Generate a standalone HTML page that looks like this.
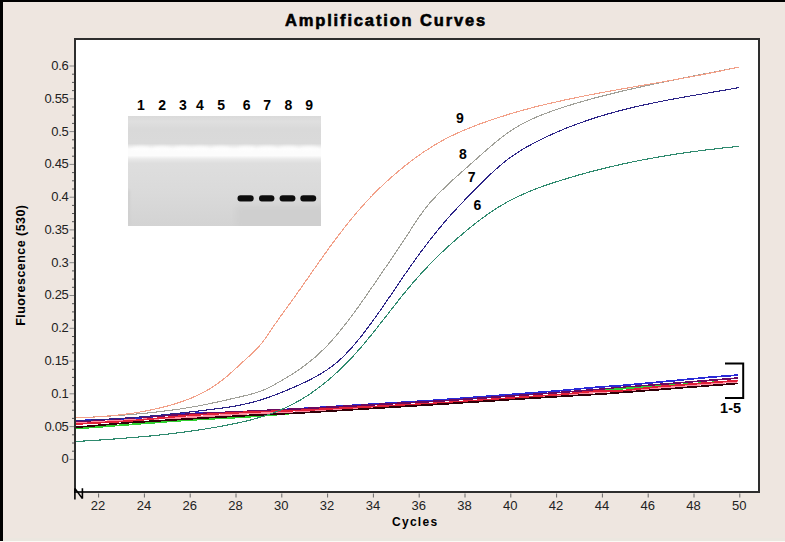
<!DOCTYPE html>
<html><head><meta charset="utf-8"><style>
html,body{margin:0;padding:0;}
body{width:785px;height:542px;overflow:hidden;background:#eee6e0;}
svg{display:block;}
text{font-family:"Liberation Sans",sans-serif;}
.tl{font-size:13px;fill:#222;}
.lb{font-size:13px;font-weight:bold;fill:#000;}
.ti{font-size:16.5px;font-weight:bold;fill:#000;stroke:#000;stroke-width:0.6px;letter-spacing:1.85px;}
.ax{font-size:12px;font-weight:bold;fill:#000;}
</style></head><body>
<svg width="785" height="542" viewBox="0 0 785 542">
<rect x="0" y="0" width="785" height="542" fill="#eee6e0"/>
<rect x="0" y="0" width="785" height="2" fill="#000"/>
<rect x="0" y="0" width="3" height="541" fill="#000"/>
<rect x="3" y="538" width="785" height="3" fill="#ebe7e0"/><rect x="0" y="541" width="785" height="1" fill="#fbfaf5"/>
<text x="386" y="25.5" text-anchor="middle" class="ti">Amplification Curves</text>
<rect x="75" y="39" width="684" height="453" fill="#fff" stroke="#2e2e2e" stroke-width="2"/>
<line x1="69.5" y1="459.4" x2="74" y2="459.4" stroke="#8a8a8a" stroke-width="1"/><line x1="72" y1="451.2" x2="74" y2="451.2" stroke="#555" stroke-width="1"/><line x1="72" y1="443.0" x2="74" y2="443.0" stroke="#555" stroke-width="1"/><line x1="72" y1="434.8" x2="74" y2="434.8" stroke="#555" stroke-width="1"/><line x1="69.5" y1="426.6" x2="74" y2="426.6" stroke="#8a8a8a" stroke-width="1"/><line x1="72" y1="418.4" x2="74" y2="418.4" stroke="#555" stroke-width="1"/><line x1="72" y1="410.2" x2="74" y2="410.2" stroke="#555" stroke-width="1"/><line x1="72" y1="402.0" x2="74" y2="402.0" stroke="#555" stroke-width="1"/><line x1="69.5" y1="393.8" x2="74" y2="393.8" stroke="#8a8a8a" stroke-width="1"/><line x1="72" y1="385.6" x2="74" y2="385.6" stroke="#555" stroke-width="1"/><line x1="72" y1="377.4" x2="74" y2="377.4" stroke="#555" stroke-width="1"/><line x1="72" y1="369.3" x2="74" y2="369.3" stroke="#555" stroke-width="1"/><line x1="69.5" y1="361.1" x2="74" y2="361.1" stroke="#8a8a8a" stroke-width="1"/><line x1="72" y1="352.9" x2="74" y2="352.9" stroke="#555" stroke-width="1"/><line x1="72" y1="344.7" x2="74" y2="344.7" stroke="#555" stroke-width="1"/><line x1="72" y1="336.5" x2="74" y2="336.5" stroke="#555" stroke-width="1"/><line x1="69.5" y1="328.3" x2="74" y2="328.3" stroke="#8a8a8a" stroke-width="1"/><line x1="72" y1="320.1" x2="74" y2="320.1" stroke="#555" stroke-width="1"/><line x1="72" y1="311.9" x2="74" y2="311.9" stroke="#555" stroke-width="1"/><line x1="72" y1="303.7" x2="74" y2="303.7" stroke="#555" stroke-width="1"/><line x1="69.5" y1="295.5" x2="74" y2="295.5" stroke="#8a8a8a" stroke-width="1"/><line x1="72" y1="287.3" x2="74" y2="287.3" stroke="#555" stroke-width="1"/><line x1="72" y1="279.1" x2="74" y2="279.1" stroke="#555" stroke-width="1"/><line x1="72" y1="270.9" x2="74" y2="270.9" stroke="#555" stroke-width="1"/><line x1="69.5" y1="262.7" x2="74" y2="262.7" stroke="#8a8a8a" stroke-width="1"/><line x1="72" y1="254.5" x2="74" y2="254.5" stroke="#555" stroke-width="1"/><line x1="72" y1="246.3" x2="74" y2="246.3" stroke="#555" stroke-width="1"/><line x1="72" y1="238.1" x2="74" y2="238.1" stroke="#555" stroke-width="1"/><line x1="69.5" y1="229.9" x2="74" y2="229.9" stroke="#8a8a8a" stroke-width="1"/><line x1="72" y1="221.7" x2="74" y2="221.7" stroke="#555" stroke-width="1"/><line x1="72" y1="213.5" x2="74" y2="213.5" stroke="#555" stroke-width="1"/><line x1="72" y1="205.4" x2="74" y2="205.4" stroke="#555" stroke-width="1"/><line x1="69.5" y1="197.2" x2="74" y2="197.2" stroke="#8a8a8a" stroke-width="1"/><line x1="72" y1="189.0" x2="74" y2="189.0" stroke="#555" stroke-width="1"/><line x1="72" y1="180.8" x2="74" y2="180.8" stroke="#555" stroke-width="1"/><line x1="72" y1="172.6" x2="74" y2="172.6" stroke="#555" stroke-width="1"/><line x1="69.5" y1="164.4" x2="74" y2="164.4" stroke="#8a8a8a" stroke-width="1"/><line x1="72" y1="156.2" x2="74" y2="156.2" stroke="#555" stroke-width="1"/><line x1="72" y1="148.0" x2="74" y2="148.0" stroke="#555" stroke-width="1"/><line x1="72" y1="139.8" x2="74" y2="139.8" stroke="#555" stroke-width="1"/><line x1="69.5" y1="131.6" x2="74" y2="131.6" stroke="#8a8a8a" stroke-width="1"/><line x1="72" y1="123.4" x2="74" y2="123.4" stroke="#555" stroke-width="1"/><line x1="72" y1="115.2" x2="74" y2="115.2" stroke="#555" stroke-width="1"/><line x1="72" y1="107.0" x2="74" y2="107.0" stroke="#555" stroke-width="1"/><line x1="69.5" y1="98.8" x2="74" y2="98.8" stroke="#8a8a8a" stroke-width="1"/><line x1="72" y1="90.6" x2="74" y2="90.6" stroke="#555" stroke-width="1"/><line x1="72" y1="82.4" x2="74" y2="82.4" stroke="#555" stroke-width="1"/><line x1="72" y1="74.2" x2="74" y2="74.2" stroke="#555" stroke-width="1"/><line x1="69.5" y1="66.0" x2="74" y2="66.0" stroke="#8a8a8a" stroke-width="1"/><line x1="98.6" y1="493.5" x2="98.6" y2="497.5" stroke="#666" stroke-width="1"/><line x1="144.4" y1="493.5" x2="144.4" y2="497.5" stroke="#666" stroke-width="1"/><line x1="190.2" y1="493.5" x2="190.2" y2="497.5" stroke="#666" stroke-width="1"/><line x1="236.0" y1="493.5" x2="236.0" y2="497.5" stroke="#666" stroke-width="1"/><line x1="281.8" y1="493.5" x2="281.8" y2="497.5" stroke="#666" stroke-width="1"/><line x1="327.6" y1="493.5" x2="327.6" y2="497.5" stroke="#666" stroke-width="1"/><line x1="373.4" y1="493.5" x2="373.4" y2="497.5" stroke="#666" stroke-width="1"/><line x1="419.2" y1="493.5" x2="419.2" y2="497.5" stroke="#666" stroke-width="1"/><line x1="465.0" y1="493.5" x2="465.0" y2="497.5" stroke="#666" stroke-width="1"/><line x1="510.8" y1="493.5" x2="510.8" y2="497.5" stroke="#666" stroke-width="1"/><line x1="556.6" y1="493.5" x2="556.6" y2="497.5" stroke="#666" stroke-width="1"/><line x1="602.4" y1="493.5" x2="602.4" y2="497.5" stroke="#666" stroke-width="1"/><line x1="648.2" y1="493.5" x2="648.2" y2="497.5" stroke="#666" stroke-width="1"/><line x1="694.0" y1="493.5" x2="694.0" y2="497.5" stroke="#666" stroke-width="1"/><line x1="739.8" y1="493.5" x2="739.8" y2="497.5" stroke="#666" stroke-width="1"/>
<text x="68.4" y="463.3" text-anchor="end" class="tl" style="letter-spacing:-0.35px">0</text><text x="68.4" y="430.5" text-anchor="end" class="tl" style="letter-spacing:-0.35px">0.05</text><text x="68.4" y="397.7" text-anchor="end" class="tl" style="letter-spacing:-0.35px">0.1</text><text x="68.4" y="365.0" text-anchor="end" class="tl" style="letter-spacing:-0.35px">0.15</text><text x="68.4" y="332.2" text-anchor="end" class="tl" style="letter-spacing:-0.35px">0.2</text><text x="68.4" y="299.4" text-anchor="end" class="tl" style="letter-spacing:-0.35px">0.25</text><text x="68.4" y="266.6" text-anchor="end" class="tl" style="letter-spacing:-0.35px">0.3</text><text x="68.4" y="233.8" text-anchor="end" class="tl" style="letter-spacing:-0.35px">0.35</text><text x="68.4" y="201.1" text-anchor="end" class="tl" style="letter-spacing:-0.35px">0.4</text><text x="68.4" y="168.3" text-anchor="end" class="tl" style="letter-spacing:-0.35px">0.45</text><text x="68.4" y="135.5" text-anchor="end" class="tl" style="letter-spacing:-0.35px">0.5</text><text x="68.4" y="102.7" text-anchor="end" class="tl" style="letter-spacing:-0.35px">0.55</text><text x="68.4" y="69.9" text-anchor="end" class="tl" style="letter-spacing:-0.35px">0.6</text>
<text x="98.1" y="509.8" text-anchor="middle" class="tl">22</text><text x="143.9" y="509.8" text-anchor="middle" class="tl">24</text><text x="189.7" y="509.8" text-anchor="middle" class="tl">26</text><text x="235.5" y="509.8" text-anchor="middle" class="tl">28</text><text x="281.3" y="509.8" text-anchor="middle" class="tl">30</text><text x="327.1" y="509.8" text-anchor="middle" class="tl">32</text><text x="372.9" y="509.8" text-anchor="middle" class="tl">34</text><text x="418.7" y="509.8" text-anchor="middle" class="tl">36</text><text x="464.5" y="509.8" text-anchor="middle" class="tl">38</text><text x="510.3" y="509.8" text-anchor="middle" class="tl">40</text><text x="556.1" y="509.8" text-anchor="middle" class="tl">42</text><text x="601.9" y="509.8" text-anchor="middle" class="tl">44</text><text x="647.7" y="509.8" text-anchor="middle" class="tl">46</text><text x="693.5" y="509.8" text-anchor="middle" class="tl">48</text><text x="739.3" y="509.8" text-anchor="middle" class="tl">50</text>
<text transform="translate(25.2,265.2) rotate(-90)" text-anchor="middle" class="ax" style="font-size:12.5px;letter-spacing:0.45px">Fluorescence (530)</text>
<text x="415.2" y="526" text-anchor="middle" class="ax" style="letter-spacing:1.3px">Cycles</text>
<defs><linearGradient id="gg" x1="0" y1="0" x2="0" y2="1"><stop offset="0" stop-color="#dadada"/><stop offset="0.05" stop-color="#dfdfdf"/><stop offset="0.12" stop-color="#d9d9d9"/><stop offset="0.25" stop-color="#dadada"/><stop offset="0.275" stop-color="#ececec"/><stop offset="0.30" stop-color="#fcfcfc"/><stop offset="0.36" stop-color="#fcfcfc"/><stop offset="0.39" stop-color="#e9e9e9"/><stop offset="0.43" stop-color="#dedede"/><stop offset="0.7" stop-color="#dadada"/><stop offset="1" stop-color="#d3d3d3"/></linearGradient><filter id="bl" x="-20%" y="-50%" width="140%" height="200%"><feGaussianBlur stdDeviation="0.75"/></filter><filter id="bl2" x="-30%" y="-60%" width="160%" height="220%"><feGaussianBlur stdDeviation="1.6"/></filter><filter id="bl3" x="-30%" y="-60%" width="160%" height="220%"><feGaussianBlur stdDeviation="3"/></filter><clipPath id="gc"><rect x="128" y="116" width="193" height="110"/></clipPath></defs><rect x="128" y="116" width="193" height="110" fill="url(#gg)"/><g clip-path="url(#gc)"><ellipse cx="141" cy="148.5" rx="9" ry="2.5" fill="#ffffff" opacity="0.6" filter="url(#bl2)"/><ellipse cx="162" cy="148.5" rx="9" ry="2.5" fill="#ffffff" opacity="0.6" filter="url(#bl2)"/><ellipse cx="183" cy="148.5" rx="9" ry="2.5" fill="#ffffff" opacity="0.6" filter="url(#bl2)"/><ellipse cx="200" cy="148.5" rx="9" ry="2.5" fill="#ffffff" opacity="0.6" filter="url(#bl2)"/><ellipse cx="221" cy="148.5" rx="9" ry="2.5" fill="#ffffff" opacity="0.6" filter="url(#bl2)"/><ellipse cx="246.6" cy="148.5" rx="9" ry="2.5" fill="#ffffff" opacity="0.6" filter="url(#bl2)"/><ellipse cx="267.2" cy="148.5" rx="9" ry="2.5" fill="#ffffff" opacity="0.6" filter="url(#bl2)"/><ellipse cx="288.5" cy="148.5" rx="9" ry="2.5" fill="#ffffff" opacity="0.6" filter="url(#bl2)"/><ellipse cx="309.2" cy="148.5" rx="9" ry="2.5" fill="#ffffff" opacity="0.6" filter="url(#bl2)"/><rect x="236" y="206" width="90" height="24" fill="#cfcfcf" filter="url(#bl3)"/><rect x="126" y="190" width="4" height="36" fill="#cfcfcf" filter="url(#bl2)"/></g><rect x="237.5" y="195.2" width="16.2" height="6.4" rx="3" fill="#111" filter="url(#bl)"/><rect x="259" y="195.2" width="15.4" height="6.4" rx="3" fill="#111" filter="url(#bl)"/><rect x="279.6" y="195.2" width="15.8" height="6.4" rx="3" fill="#111" filter="url(#bl)"/><rect x="300.3" y="195.2" width="15.9" height="6.4" rx="3" fill="#111" filter="url(#bl)"/><text x="141.0" y="110.4" text-anchor="middle" class="lb" style="font-size:14px">1</text><text x="162.2" y="110.4" text-anchor="middle" class="lb" style="font-size:14px">2</text><text x="182.9" y="110.4" text-anchor="middle" class="lb" style="font-size:14px">3</text><text x="199.8" y="110.4" text-anchor="middle" class="lb" style="font-size:14px">4</text><text x="221.1" y="110.4" text-anchor="middle" class="lb" style="font-size:14px">5</text><text x="246.6" y="110.4" text-anchor="middle" class="lb" style="font-size:14px">6</text><text x="267.2" y="110.4" text-anchor="middle" class="lb" style="font-size:14px">7</text><text x="288.5" y="110.4" text-anchor="middle" class="lb" style="font-size:14px">8</text><text x="309.2" y="110.4" text-anchor="middle" class="lb" style="font-size:14px">9</text>
<polyline points="76.0,420.7 78.0,420.6 80.0,420.5 82.0,420.5 84.0,420.4 86.0,420.3 88.0,420.2 90.0,420.1 92.0,420.1 94.0,420.0 96.0,419.9 98.0,419.8 100.0,419.7 102.0,419.7 104.0,419.6 106.0,419.5 108.0,419.4 110.0,419.4 112.0,419.3 114.0,419.2 116.0,419.1 118.0,419.0 120.0,419.0 122.0,418.9 124.0,418.8 126.0,418.7 128.0,418.6 130.0,418.6 132.0,418.5 134.0,418.4 136.0,418.2 138.0,418.0 140.0,417.9 142.0,417.7 144.0,417.5 146.0,417.3 148.0,417.2 150.0,417.0 152.0,416.8 154.0,416.6 156.0,416.5 158.0,416.3 160.0,416.1 162.0,415.9 164.0,415.8 166.0,415.6 168.0,415.4 170.0,415.2 172.0,415.1 174.0,414.9 176.0,414.7 178.0,414.6 180.0,414.4 182.0,414.2 184.0,414.0 186.0,413.9 188.0,413.7 190.0,413.5 192.0,413.4 194.0,413.4 196.0,413.3 198.0,413.2 200.0,413.2 202.0,413.1 204.0,413.0 206.0,413.0 208.0,412.9 210.0,412.8 212.0,412.8 214.0,412.7 216.0,412.6 218.0,412.6 220.0,412.5 222.0,412.4 224.0,412.4 226.0,412.3 228.0,412.2 230.0,412.2 232.0,412.1 234.0,412.0 236.0,412.0 238.0,411.9 240.0,411.8 242.0,411.8 244.0,411.7 246.0,411.6 248.0,411.6 250.0,411.5 252.0,411.4 254.0,411.3 256.0,411.2 258.0,411.0 260.0,410.9 262.0,410.8 264.0,410.7 266.0,410.6 268.0,410.5 270.0,410.3 272.0,410.2 274.0,410.1 276.0,410.0 278.0,409.9 280.0,409.8 282.0,409.6 284.0,409.5 286.0,409.4 288.0,409.3 290.0,409.2 292.0,409.1 294.0,408.9 296.0,408.8 298.0,408.7 300.0,408.6 302.0,408.5 304.0,408.4 306.0,408.2 308.0,408.1 310.0,408.0 312.0,407.9 314.0,407.7 316.0,407.6 318.0,407.5 320.0,407.4 322.0,407.2 324.0,407.1 326.0,407.0 328.0,406.9 330.0,406.7 332.0,406.6 334.0,406.5 336.0,406.4 338.0,406.2 340.0,406.1 342.0,406.0 344.0,405.9 346.0,405.7 348.0,405.6 350.0,405.5 352.0,405.4 354.0,405.2 356.0,405.1 358.0,405.0 360.0,404.9 362.0,404.7 364.0,404.6 366.0,404.5 368.0,404.4 370.0,404.2 372.0,404.1 374.0,404.0 376.0,403.9 378.0,403.8 380.0,403.6 382.0,403.5 384.0,403.4 386.0,403.3 388.0,403.1 390.0,403.0 392.0,402.9 394.0,402.8 396.0,402.6 398.0,402.5 400.0,402.4 402.0,402.3 404.0,402.1 406.0,402.0 408.0,401.9 410.0,401.8 412.0,401.6 414.0,401.5 416.0,401.4 418.0,401.3 420.0,401.1 422.0,401.0 424.0,400.9 426.0,400.8 428.0,400.6 430.0,400.5 432.0,400.4 434.0,400.3 436.0,400.1 438.0,400.0 440.0,399.9 442.0,399.7 444.0,399.6 446.0,399.4 448.0,399.3 450.0,399.1 452.0,399.0 454.0,398.8 456.0,398.7 458.0,398.5 460.0,398.4 462.0,398.2 464.0,398.1 466.0,397.9 468.0,397.8 470.0,397.6 472.0,397.4 474.0,397.3 476.0,397.1 478.0,397.0 480.0,396.8 482.0,396.7 484.0,396.5 486.0,396.4 488.0,396.2 490.0,396.1 492.0,395.9 494.0,395.8 496.0,395.6 498.0,395.5 500.0,395.3 502.0,395.1 504.0,395.0 506.0,394.8 508.0,394.7 510.0,394.5 512.0,394.4 514.0,394.2 516.0,394.1 518.0,393.9 520.0,393.8 522.0,393.6 524.0,393.5 526.0,393.3 528.0,393.2 530.0,393.0 532.0,392.8 534.0,392.7 536.0,392.5 538.0,392.4 540.0,392.2 542.0,392.1 544.0,391.9 546.0,391.8 548.0,391.6 550.0,391.5 552.0,391.3 554.0,391.2 556.0,391.0 558.0,390.9 560.0,390.7 562.0,390.5 564.0,390.3 566.0,390.1 568.0,389.9 570.0,389.8 572.0,389.6 574.0,389.4 576.0,389.2 578.0,389.0 580.0,388.8 582.0,388.6 584.0,388.4 586.0,388.2 588.0,388.0 590.0,387.8 592.0,387.7 594.0,387.5 596.0,387.3 598.0,387.1 600.0,386.9 602.0,386.8 604.0,386.7 606.0,386.5 608.0,386.4 610.0,386.3 612.0,386.2 614.0,386.1 616.0,385.9 618.0,385.8 620.0,385.7 622.0,385.5 624.0,385.3 626.0,385.1 628.0,385.0 630.0,384.8 632.0,384.6 634.0,384.4 636.0,384.2 638.0,384.0 640.0,383.9 642.0,383.7 644.0,383.5 646.0,383.3 648.0,383.1 650.0,382.9 652.0,382.7 654.0,382.6 656.0,382.4 658.0,382.2 660.0,382.0 662.0,381.8 664.0,381.6 666.0,381.4 668.0,381.2 670.0,381.0 672.0,380.8 674.0,380.7 676.0,380.5 678.0,380.3 680.0,380.1 682.0,379.9 684.0,379.7 686.0,379.5 688.0,379.3 690.0,379.1 692.0,378.9 694.0,378.7 696.0,378.5 698.0,378.4 700.0,378.2 702.0,378.0 704.0,377.8 706.0,377.6 708.0,377.4 710.0,377.2 712.0,377.0 714.0,376.9 716.0,376.7 718.0,376.6 720.0,376.4 722.0,376.3 724.0,376.1 726.0,376.0 728.0,375.8 730.0,375.7 732.0,375.5 734.0,375.4 736.0,375.2 738.0,375.1" fill="none" stroke="#2a2ad8" stroke-width="1.7" shape-rendering="crispEdges"/><polyline points="76.0,421.6 78.0,421.5 80.0,421.3 82.0,421.2 84.0,421.1 86.0,420.9 88.0,420.8 90.0,420.7 92.0,420.5 94.0,420.4 96.0,420.3 98.0,420.1 100.0,420.0 102.0,419.9 104.0,419.7 106.0,419.6 108.0,419.5 110.0,419.3 112.0,419.2 114.0,419.1 116.0,418.9 118.0,418.8 120.0,418.7 122.0,418.5 124.0,418.4 126.0,418.3 128.0,418.1 130.0,418.0 132.0,417.9 134.0,417.7 136.0,417.6 138.0,417.5 140.0,417.3 142.0,417.2 144.0,417.1 146.0,416.9 148.0,416.8 150.0,416.7 152.0,416.5 154.0,416.4 156.0,416.3 158.0,416.1 160.0,416.0 162.0,415.9 164.0,415.7 166.0,415.6 168.0,415.5 170.0,415.3 172.0,415.2 174.0,415.1 176.0,414.9 178.0,414.8 180.0,414.7 182.0,414.5 184.0,414.4 186.0,414.3 188.0,414.1 190.0,414.0 192.0,413.9 194.0,413.8 196.0,413.7 198.0,413.6 200.0,413.5 202.0,413.4 204.0,413.3 206.0,413.2 208.0,413.1 210.0,413.1 212.0,413.0 214.0,412.9 216.0,412.8 218.0,412.7 220.0,412.6 222.0,412.5 224.0,412.4 226.0,412.3 228.0,412.2 230.0,412.1 232.0,412.0 234.0,411.9 236.0,411.8 238.0,411.7 240.0,411.6 242.0,411.5 244.0,411.4 246.0,411.4 248.0,411.3 250.0,411.2 252.0,411.1 254.0,411.0 256.0,410.9 258.0,410.8 260.0,410.7 262.0,410.6 264.0,410.5 266.0,410.4 268.0,410.3 270.0,410.2 272.0,410.1 274.0,410.0 276.0,409.9 278.0,409.8 280.0,409.7 282.0,409.7 284.0,409.6 286.0,409.5 288.0,409.4 290.0,409.3 292.0,409.2 294.0,409.1 296.0,409.0 298.0,408.9 300.0,408.8 302.0,408.7 304.0,408.6 306.0,408.5 308.0,408.4 310.0,408.2 312.0,408.1 314.0,408.0 316.0,407.9 318.0,407.8 320.0,407.7 322.0,407.6 324.0,407.5 326.0,407.4 328.0,407.2 330.0,407.1 332.0,407.0 334.0,406.9 336.0,406.8 338.0,406.7 340.0,406.6 342.0,406.5 344.0,406.3 346.0,406.2 348.0,406.1 350.0,406.0 352.0,405.9 354.0,405.8 356.0,405.7 358.0,405.6 360.0,405.5 362.0,405.3 364.0,405.2 366.0,405.1 368.0,405.0 370.0,404.9 372.0,404.8 374.0,404.7 376.0,404.6 378.0,404.5 380.0,404.3 382.0,404.2 384.0,404.1 386.0,404.0 388.0,403.9 390.0,403.8 392.0,403.7 394.0,403.6 396.0,403.5 398.0,403.3 400.0,403.2 402.0,403.1 404.0,403.0 406.0,402.9 408.0,402.8 410.0,402.7 412.0,402.6 414.0,402.4 416.0,402.3 418.0,402.2 420.0,402.1 422.0,402.0 424.0,401.9 426.0,401.8 428.0,401.7 430.0,401.6 432.0,401.4 434.0,401.3 436.0,401.2 438.0,401.1 440.0,401.0 442.0,400.9 444.0,400.7 446.0,400.6 448.0,400.4 450.0,400.3 452.0,400.1 454.0,400.0 456.0,399.9 458.0,399.7 460.0,399.6 462.0,399.4 464.0,399.3 466.0,399.2 468.0,399.0 470.0,398.9 472.0,398.7 474.0,398.6 476.0,398.4 478.0,398.3 480.0,398.2 482.0,398.0 484.0,397.9 486.0,397.7 488.0,397.6 490.0,397.5 492.0,397.3 494.0,397.2 496.0,397.0 498.0,396.9 500.0,396.8 502.0,396.6 504.0,396.5 506.0,396.3 508.0,396.2 510.0,396.0 512.0,395.9 514.0,395.8 516.0,395.6 518.0,395.5 520.0,395.3 522.0,395.2 524.0,395.1 526.0,394.9 528.0,394.8 530.0,394.6 532.0,394.5 534.0,394.3 536.0,394.2 538.0,394.1 540.0,393.9 542.0,393.8 544.0,393.6 546.0,393.5 548.0,393.4 550.0,393.2 552.0,393.1 554.0,392.9 556.0,392.8 558.0,392.6 560.0,392.5 562.0,392.3 564.0,392.2 566.0,392.0 568.0,391.9 570.0,391.7 572.0,391.5 574.0,391.4 576.0,391.2 578.0,391.0 580.0,390.9 582.0,390.7 584.0,390.6 586.0,390.4 588.0,390.2 590.0,390.1 592.0,389.9 594.0,389.7 596.0,389.6 598.0,389.4 600.0,389.3 602.0,389.1 604.0,388.9 606.0,388.8 608.0,388.6 610.0,388.4 612.0,388.3 614.0,388.1 616.0,388.0 618.0,387.8 620.0,387.6 622.0,387.5 624.0,387.3 626.0,387.2 628.0,387.0 630.0,386.8 632.0,386.7 634.0,386.5 636.0,386.3 638.0,386.2 640.0,386.0 642.0,385.9 644.0,385.7 646.0,385.5 648.0,385.4 650.0,385.2 652.0,385.0 654.0,384.9 656.0,384.7 658.0,384.6 660.0,384.4 662.0,384.2 664.0,384.1 666.0,383.9 668.0,383.8 670.0,383.6 672.0,383.4 674.0,383.3 676.0,383.1 678.0,382.9 680.0,382.8 682.0,382.6 684.0,382.5 686.0,382.3 688.0,382.1 690.0,382.0 692.0,381.8 694.0,381.6 696.0,381.5 698.0,381.3 700.0,381.2 702.0,381.0 704.0,380.8 706.0,380.7 708.0,380.5 710.0,380.3 712.0,380.2 714.0,380.0 716.0,379.9 718.0,379.7 720.0,379.5 722.0,379.4 724.0,379.2 726.0,379.1 728.0,378.9 730.0,378.7 732.0,378.6 734.0,378.4 736.0,378.2 738.0,378.1" fill="none" stroke="#6a0a60" stroke-width="1.7" shape-rendering="crispEdges"/><polyline points="76.0,428.7 78.0,428.5 80.0,428.4 82.0,428.2 84.0,428.1 86.0,427.9 88.0,427.8 90.0,427.6 92.0,427.5 94.0,427.3 96.0,427.1 98.0,427.0 100.0,426.8 102.0,426.7 104.0,426.5 106.0,426.4 108.0,426.2 110.0,426.1 112.0,425.9 114.0,425.7 116.0,425.6 118.0,425.4 120.0,425.3 122.0,425.1 124.0,425.0 126.0,424.8 128.0,424.7 130.0,424.5 132.0,424.4 134.0,424.2 136.0,424.1 138.0,423.9 140.0,423.8 142.0,423.6 144.0,423.4 146.0,423.3 148.0,423.1 150.0,423.0 152.0,422.9 154.0,422.7 156.0,422.6 158.0,422.4 160.0,422.2 162.0,422.1 164.0,421.9 166.0,421.8 168.0,421.6 170.0,421.5 172.0,421.4 174.0,421.2 176.0,421.1 178.0,420.9 180.0,420.8 182.0,420.6 184.0,420.4 186.0,420.3 188.0,420.1 190.0,420.0 192.0,419.9 194.0,419.8 196.0,419.7 198.0,419.6 200.0,419.5 202.0,419.4 204.0,419.3 206.0,419.1 208.0,419.0 210.0,418.9 212.0,418.8 214.0,418.7 216.0,418.6 218.0,418.5 220.0,418.4 222.0,418.3 224.0,418.2 226.0,418.1 228.0,418.0 230.0,417.9 232.0,417.8 234.0,417.7 236.0,417.5 238.0,417.4 240.0,417.3 242.0,417.2 244.0,417.1 246.0,417.0 248.0,416.9 250.0,416.8 252.0,416.6 254.0,416.5 256.0,416.3 258.0,416.1 260.0,416.0 262.0,415.8 264.0,415.7 266.0,415.5 268.0,415.3 270.0,415.2 272.0,415.0 274.0,414.8 276.0,414.7 278.0,414.5 280.0,414.3 282.0,414.2 284.0,414.0 286.0,413.8 288.0,413.7 290.0,413.5 292.0,413.4 294.0,413.2 296.0,413.0 298.0,412.9 300.0,412.7 302.0,412.6 304.0,412.4 306.0,412.3 308.0,412.2 310.0,412.0 312.0,411.9 314.0,411.8 316.0,411.6 318.0,411.5 320.0,411.4 322.0,411.3 324.0,411.1 326.0,411.0 328.0,410.9 330.0,410.7 332.0,410.6 334.0,410.5 336.0,410.3 338.0,410.2 340.0,410.1 342.0,409.9 344.0,409.8 346.0,409.7 348.0,409.5 350.0,409.4 352.0,409.3 354.0,409.2 356.0,409.0 358.0,408.9 360.0,408.8 362.0,408.6 364.0,408.5 366.0,408.4 368.0,408.2 370.0,408.1 372.0,408.0 374.0,407.8 376.0,407.7 378.0,407.6 380.0,407.4 382.0,407.3 384.0,407.2 386.0,407.0 388.0,406.9 390.0,406.8 392.0,406.7 394.0,406.5 396.0,406.4 398.0,406.3 400.0,406.1 402.0,406.0 404.0,405.9 406.0,405.7 408.0,405.6 410.0,405.5 412.0,405.3 414.0,405.2 416.0,405.1 418.0,404.9 420.0,404.8 422.0,404.7 424.0,404.6 426.0,404.4 428.0,404.3 430.0,404.2 432.0,404.0 434.0,403.9 436.0,403.8 438.0,403.6 440.0,403.5 442.0,403.4 444.0,403.2 446.0,403.1 448.0,402.9 450.0,402.8 452.0,402.6 454.0,402.5 456.0,402.4 458.0,402.2 460.0,402.1 462.0,401.9 464.0,401.8 466.0,401.7 468.0,401.5 470.0,401.4 472.0,401.2 474.0,401.1 476.0,400.9 478.0,400.8 480.0,400.7 482.0,400.5 484.0,400.4 486.0,400.2 488.0,400.1 490.0,400.0 492.0,399.8 494.0,399.7 496.0,399.5 498.0,399.4 500.0,399.2 502.0,399.1 504.0,399.0 506.0,398.8 508.0,398.7 510.0,398.5 512.0,398.4 514.0,398.3 516.0,398.1 518.0,398.0 520.0,397.8 522.0,397.7 524.0,397.6 526.0,397.4 528.0,397.3 530.0,397.1 532.0,397.0 534.0,396.8 536.0,396.7 538.0,396.6 540.0,396.4 542.0,396.3 544.0,396.1 546.0,396.0 548.0,395.9 550.0,395.7 552.0,395.6 554.0,395.4 556.0,395.3 558.0,395.1 560.0,395.0 562.0,394.8 564.0,394.6 566.0,394.4 568.0,394.2 570.0,394.0 572.0,393.8 574.0,393.6 576.0,393.3 578.0,393.1 580.0,392.9 582.0,392.7 584.0,392.5 586.0,392.3 588.0,392.1 590.0,391.9 592.0,391.7 594.0,391.5 596.0,391.3 598.0,391.1 600.0,390.9 602.0,390.7 604.0,390.5 606.0,390.2 608.0,390.0 610.0,389.8 612.0,389.6 614.0,389.4 616.0,389.2 618.0,389.0 620.0,388.8 622.0,388.7 624.0,388.5 626.0,388.4 628.0,388.2 630.0,388.1 632.0,388.0 634.0,387.8 636.0,387.7 638.0,387.5 640.0,387.4 642.0,387.3 644.0,387.1 646.0,387.0 648.0,386.8 650.0,386.7 652.0,386.6 654.0,386.4 656.0,386.3 658.0,386.1 660.0,386.0 662.0,385.9 664.0,385.7 666.0,385.6 668.0,385.5 670.0,385.3 672.0,385.2 674.0,385.0 676.0,384.9 678.0,384.8 680.0,384.6 682.0,384.5 684.0,384.3 686.0,384.2 688.0,384.1 690.0,383.9 692.0,383.8 694.0,383.6 696.0,383.5 698.0,383.4 700.0,383.2 702.0,383.1 704.0,382.9 706.0,382.8 708.0,382.7 710.0,382.5 712.0,382.4 714.0,382.2 716.0,382.1 718.0,382.0 720.0,381.8 722.0,381.7 724.0,381.5 726.0,381.4 728.0,381.3 730.0,381.1 732.0,381.0 734.0,380.8 736.0,380.7 738.0,380.6" fill="none" stroke="#30d030" stroke-width="1.7" shape-rendering="crispEdges"/><polyline points="76.0,423.2 78.0,423.1 80.0,423.0 82.0,422.8 84.0,422.7 86.0,422.6 88.0,422.5 90.0,422.4 92.0,422.3 94.0,422.1 96.0,422.0 98.0,421.9 100.0,421.8 102.0,421.7 104.0,421.5 106.0,421.4 108.0,421.3 110.0,421.2 112.0,421.1 114.0,420.9 116.0,420.8 118.0,420.7 120.0,420.6 122.0,420.5 124.0,420.4 126.0,420.2 128.0,420.1 130.0,420.0 132.0,419.9 134.0,419.8 136.0,419.7 138.0,419.6 140.0,419.5 142.0,419.4 144.0,419.3 146.0,419.3 148.0,419.2 150.0,419.1 152.0,419.0 154.0,418.9 156.0,418.8 158.0,418.7 160.0,418.6 162.0,418.5 164.0,418.4 166.0,418.3 168.0,418.2 170.0,418.1 172.0,418.0 174.0,417.9 176.0,417.9 178.0,417.8 180.0,417.7 182.0,417.6 184.0,417.5 186.0,417.4 188.0,417.3 190.0,417.2 192.0,417.1 194.0,417.0 196.0,416.8 198.0,416.7 200.0,416.6 202.0,416.5 204.0,416.3 206.0,416.2 208.0,416.1 210.0,416.0 212.0,415.8 214.0,415.7 216.0,415.6 218.0,415.5 220.0,415.4 222.0,415.2 224.0,415.1 226.0,415.0 228.0,414.9 230.0,414.7 232.0,414.6 234.0,414.5 236.0,414.4 238.0,414.2 240.0,414.1 242.0,414.0 244.0,413.9 246.0,413.7 248.0,413.6 250.0,413.5 252.0,413.4 254.0,413.4 256.0,413.3 258.0,413.3 260.0,413.2 262.0,413.2 264.0,413.1 266.0,413.1 268.0,413.0 270.0,413.0 272.0,412.9 274.0,412.9 276.0,412.8 278.0,412.8 280.0,412.7 282.0,412.7 284.0,412.6 286.0,412.6 288.0,412.5 290.0,412.5 292.0,412.4 294.0,412.4 296.0,412.3 298.0,412.3 300.0,412.2 302.0,412.1 304.0,412.0 306.0,411.8 308.0,411.7 310.0,411.6 312.0,411.5 314.0,411.3 316.0,411.2 318.0,411.1 320.0,411.0 322.0,410.8 324.0,410.7 326.0,410.6 328.0,410.5 330.0,410.3 332.0,410.2 334.0,410.1 336.0,410.0 338.0,409.8 340.0,409.7 342.0,409.6 344.0,409.5 346.0,409.3 348.0,409.2 350.0,409.1 352.0,409.0 354.0,408.8 356.0,408.7 358.0,408.6 360.0,408.5 362.0,408.3 364.0,408.2 366.0,408.1 368.0,408.0 370.0,407.9 372.0,407.7 374.0,407.6 376.0,407.5 378.0,407.4 380.0,407.2 382.0,407.1 384.0,407.0 386.0,406.9 388.0,406.7 390.0,406.6 392.0,406.5 394.0,406.4 396.0,406.2 398.0,406.1 400.0,406.0 402.0,405.9 404.0,405.7 406.0,405.6 408.0,405.5 410.0,405.4 412.0,405.2 414.0,405.1 416.0,405.0 418.0,404.9 420.0,404.7 422.0,404.6 424.0,404.5 426.0,404.4 428.0,404.2 430.0,404.1 432.0,404.0 434.0,403.9 436.0,403.7 438.0,403.6 440.0,403.5 442.0,403.4 444.0,403.2 446.0,403.1 448.0,402.9 450.0,402.8 452.0,402.6 454.0,402.5 456.0,402.4 458.0,402.2 460.0,402.1 462.0,401.9 464.0,401.8 466.0,401.7 468.0,401.5 470.0,401.4 472.0,401.2 474.0,401.1 476.0,400.9 478.0,400.8 480.0,400.7 482.0,400.5 484.0,400.4 486.0,400.2 488.0,400.1 490.0,400.0 492.0,399.8 494.0,399.7 496.0,399.5 498.0,399.4 500.0,399.2 502.0,399.1 504.0,399.0 506.0,398.8 508.0,398.7 510.0,398.5 512.0,398.4 514.0,398.3 516.0,398.1 518.0,398.0 520.0,397.8 522.0,397.7 524.0,397.6 526.0,397.4 528.0,397.3 530.0,397.1 532.0,397.0 534.0,396.8 536.0,396.7 538.0,396.6 540.0,396.4 542.0,396.3 544.0,396.1 546.0,396.0 548.0,395.9 550.0,395.7 552.0,395.6 554.0,395.4 556.0,395.3 558.0,395.1 560.0,395.0 562.0,394.9 564.0,394.7 566.0,394.6 568.0,394.4 570.0,394.3 572.0,394.2 574.0,394.0 576.0,393.9 578.0,393.7 580.0,393.6 582.0,393.5 584.0,393.3 586.0,393.2 588.0,393.0 590.0,392.9 592.0,392.8 594.0,392.6 596.0,392.5 598.0,392.3 600.0,392.2 602.0,392.1 604.0,391.9 606.0,391.8 608.0,391.6 610.0,391.5 612.0,391.4 614.0,391.2 616.0,391.1 618.0,390.9 620.0,390.8 622.0,390.7 624.0,390.5 626.0,390.4 628.0,390.2 630.0,390.1 632.0,390.0 634.0,389.8 636.0,389.7 638.0,389.5 640.0,389.4 642.0,389.3 644.0,389.1 646.0,389.0 648.0,388.8 650.0,388.7 652.0,388.6 654.0,388.4 656.0,388.3 658.0,388.1 660.0,388.0 662.0,387.8 664.0,387.7 666.0,387.5 668.0,387.3 670.0,387.2 672.0,387.0 674.0,386.8 676.0,386.7 678.0,386.5 680.0,386.4 682.0,386.2 684.0,386.0 686.0,385.9 688.0,385.7 690.0,385.5 692.0,385.4 694.0,385.2 696.0,385.0 698.0,384.9 700.0,384.7 702.0,384.5 704.0,384.4 706.0,384.2 708.0,384.1 710.0,383.9 712.0,383.7 714.0,383.6 716.0,383.4 718.0,383.2 720.0,383.1 722.0,382.9 724.0,382.7 726.0,382.6 728.0,382.4 730.0,382.2 732.0,382.1 734.0,381.9 736.0,381.7 738.0,381.6" fill="none" stroke="#ff8ca0" stroke-width="1.7" shape-rendering="crispEdges"/><polyline points="76.0,424.0 78.0,423.9 80.0,423.8 82.0,423.7 84.0,423.6 86.0,423.4 88.0,423.3 90.0,423.2 92.0,423.1 94.0,423.0 96.0,422.9 98.0,422.8 100.0,422.7 102.0,422.6 104.0,422.4 106.0,422.3 108.0,422.2 110.0,422.1 112.0,422.0 114.0,421.9 116.0,421.8 118.0,421.7 120.0,421.6 122.0,421.4 124.0,421.3 126.0,421.2 128.0,421.1 130.0,421.0 132.0,420.8 134.0,420.6 136.0,420.4 138.0,420.2 140.0,420.1 142.0,419.9 144.0,419.7 146.0,419.5 148.0,419.3 150.0,419.1 152.0,418.9 154.0,418.7 156.0,418.5 158.0,418.3 160.0,418.1 162.0,418.0 164.0,417.8 166.0,417.6 168.0,417.4 170.0,417.2 172.0,417.0 174.0,416.8 176.0,416.6 178.0,416.4 180.0,416.2 182.0,416.1 184.0,415.9 186.0,415.7 188.0,415.5 190.0,415.3 192.0,415.2 194.0,415.1 196.0,415.0 198.0,414.9 200.0,414.8 202.0,414.6 204.0,414.5 206.0,414.4 208.0,414.3 210.0,414.2 212.0,414.1 214.0,414.0 216.0,413.9 218.0,413.8 220.0,413.6 222.0,413.5 224.0,413.4 226.0,413.3 228.0,413.2 230.0,413.1 232.0,413.0 234.0,412.9 236.0,412.8 238.0,412.7 240.0,412.6 242.0,412.4 244.0,412.3 246.0,412.2 248.0,412.1 250.0,412.0 252.0,411.9 254.0,411.9 256.0,411.8 258.0,411.7 260.0,411.7 262.0,411.6 264.0,411.6 266.0,411.5 268.0,411.4 270.0,411.4 272.0,411.3 274.0,411.2 276.0,411.2 278.0,411.1 280.0,411.0 282.0,411.0 284.0,410.9 286.0,410.8 288.0,410.8 290.0,410.7 292.0,410.7 294.0,410.6 296.0,410.5 298.0,410.5 300.0,410.4 302.0,410.3 304.0,410.2 306.0,410.1 308.0,410.0 310.0,409.9 312.0,409.8 314.0,409.7 316.0,409.6 318.0,409.4 320.0,409.3 322.0,409.2 324.0,409.1 326.0,409.0 328.0,408.9 330.0,408.8 332.0,408.7 334.0,408.6 336.0,408.5 338.0,408.4 340.0,408.3 342.0,408.2 344.0,408.1 346.0,408.0 348.0,407.9 350.0,407.8 352.0,407.7 354.0,407.5 356.0,407.4 358.0,407.3 360.0,407.2 362.0,407.1 364.0,407.0 366.0,406.9 368.0,406.8 370.0,406.7 372.0,406.6 374.0,406.5 376.0,406.4 378.0,406.3 380.0,406.2 382.0,406.1 384.0,406.0 386.0,405.9 388.0,405.7 390.0,405.6 392.0,405.5 394.0,405.4 396.0,405.3 398.0,405.2 400.0,405.1 402.0,405.0 404.0,404.9 406.0,404.8 408.0,404.7 410.0,404.6 412.0,404.5 414.0,404.4 416.0,404.3 418.0,404.2 420.0,404.1 422.0,404.0 424.0,403.8 426.0,403.7 428.0,403.6 430.0,403.5 432.0,403.4 434.0,403.3 436.0,403.2 438.0,403.1 440.0,403.0 442.0,402.9 444.0,402.7 446.0,402.6 448.0,402.4 450.0,402.3 452.0,402.1 454.0,402.0 456.0,401.9 458.0,401.7 460.0,401.6 462.0,401.4 464.0,401.3 466.0,401.2 468.0,401.0 470.0,400.9 472.0,400.7 474.0,400.6 476.0,400.4 478.0,400.3 480.0,400.2 482.0,400.0 484.0,399.9 486.0,399.7 488.0,399.6 490.0,399.5 492.0,399.3 494.0,399.2 496.0,399.0 498.0,398.9 500.0,398.8 502.0,398.6 504.0,398.5 506.0,398.3 508.0,398.2 510.0,398.0 512.0,397.9 514.0,397.8 516.0,397.6 518.0,397.5 520.0,397.3 522.0,397.2 524.0,397.1 526.0,396.9 528.0,396.8 530.0,396.6 532.0,396.5 534.0,396.3 536.0,396.2 538.0,396.1 540.0,395.9 542.0,395.8 544.0,395.6 546.0,395.5 548.0,395.4 550.0,395.2 552.0,395.1 554.0,394.9 556.0,394.8 558.0,394.6 560.0,394.5 562.0,394.3 564.0,394.1 566.0,393.9 568.0,393.7 570.0,393.6 572.0,393.4 574.0,393.2 576.0,393.0 578.0,392.8 580.0,392.6 582.0,392.4 584.0,392.2 586.0,392.0 588.0,391.8 590.0,391.6 592.0,391.5 594.0,391.3 596.0,391.1 598.0,390.9 600.0,390.7 602.0,390.7 604.0,390.8 606.0,390.8 608.0,390.8 610.0,390.9 612.0,390.9 614.0,390.9 616.0,390.9 618.0,391.0 620.0,391.0 622.0,390.8 624.0,390.6 626.0,390.3 628.0,390.1 630.0,389.9 632.0,389.6 634.0,389.4 636.0,389.2 638.0,389.0 640.0,388.8 642.0,388.5 644.0,388.3 646.0,388.1 648.0,387.9 650.0,387.6 652.0,387.4 654.0,387.2 656.0,386.9 658.0,386.7 660.0,386.5 662.0,386.3 664.0,386.2 666.0,386.0 668.0,385.9 670.0,385.7 672.0,385.6 674.0,385.4 676.0,385.3 678.0,385.1 680.0,385.0 682.0,384.8 684.0,384.7 686.0,384.5 688.0,384.4 690.0,384.2 692.0,384.1 694.0,383.9 696.0,383.8 698.0,383.6 700.0,383.5 702.0,383.3 704.0,383.2 706.0,383.0 708.0,382.9 710.0,382.7 712.0,382.6 714.0,382.4 716.0,382.2 718.0,382.1 720.0,381.9 722.0,381.8 724.0,381.6 726.0,381.5 728.0,381.3 730.0,381.2 732.0,381.0 734.0,380.9 736.0,380.7 738.0,380.6" fill="none" stroke="#e02038" stroke-width="1.7" shape-rendering="crispEdges"/><polyline points="76.0,427.3 78.0,427.1 80.0,427.0 82.0,426.8 84.0,426.6 86.0,426.4 88.0,426.3 90.0,426.1 92.0,425.9 94.0,425.7 96.0,425.6 98.0,425.4 100.0,425.2 102.0,425.0 104.0,424.9 106.0,424.7 108.0,424.5 110.0,424.3 112.0,424.2 114.0,424.0 116.0,423.8 118.0,423.6 120.0,423.5 122.0,423.3 124.0,423.1 126.0,422.9 128.0,422.8 130.0,422.6 132.0,422.5 134.0,422.3 136.0,422.2 138.0,422.1 140.0,422.0 142.0,421.8 144.0,421.7 146.0,421.6 148.0,421.5 150.0,421.3 152.0,421.2 154.0,421.1 156.0,421.0 158.0,420.8 160.0,420.7 162.0,420.6 164.0,420.4 166.0,420.3 168.0,420.2 170.0,420.1 172.0,419.9 174.0,419.8 176.0,419.7 178.0,419.6 180.0,419.4 182.0,419.3 184.0,419.2 186.0,419.1 188.0,418.9 190.0,418.8 192.0,418.7 194.0,418.6 196.0,418.4 198.0,418.3 200.0,418.2 202.0,418.1 204.0,418.0 206.0,417.9 208.0,417.8 210.0,417.6 212.0,417.5 214.0,417.4 216.0,417.3 218.0,417.2 220.0,417.1 222.0,416.9 224.0,416.8 226.0,416.7 228.0,416.6 230.0,416.5 232.0,416.4 234.0,416.2 236.0,416.1 238.0,416.0 240.0,415.9 242.0,415.8 244.0,415.7 246.0,415.5 248.0,415.4 250.0,415.3 252.0,415.2 254.0,415.1 256.0,415.0 258.0,414.9 260.0,414.8 262.0,414.7 264.0,414.7 266.0,414.6 268.0,414.5 270.0,414.4 272.0,414.3 274.0,414.2 276.0,414.1 278.0,414.0 280.0,413.9 282.0,413.8 284.0,413.7 286.0,413.6 288.0,413.6 290.0,413.5 292.0,413.4 294.0,413.3 296.0,413.2 298.0,413.1 300.0,413.0 302.0,412.9 304.0,412.7 306.0,412.6 308.0,412.5 310.0,412.4 312.0,412.2 314.0,412.1 316.0,412.0 318.0,411.9 320.0,411.7 322.0,411.6 324.0,411.5 326.0,411.4 328.0,411.2 330.0,411.1 332.0,411.0 334.0,410.9 336.0,410.7 338.0,410.6 340.0,410.5 342.0,410.4 344.0,410.2 346.0,410.1 348.0,410.0 350.0,409.9 352.0,409.7 354.0,409.6 356.0,409.5 358.0,409.4 360.0,409.2 362.0,409.1 364.0,409.0 366.0,408.9 368.0,408.7 370.0,408.6 372.0,408.5 374.0,408.3 376.0,408.2 378.0,408.1 380.0,408.0 382.0,407.8 384.0,407.7 386.0,407.6 388.0,407.5 390.0,407.3 392.0,407.2 394.0,407.1 396.0,407.0 398.0,406.8 400.0,406.7 402.0,406.6 404.0,406.5 406.0,406.3 408.0,406.2 410.0,406.1 412.0,406.0 414.0,405.8 416.0,405.7 418.0,405.6 420.0,405.5 422.0,405.3 424.0,405.2 426.0,405.1 428.0,405.0 430.0,404.8 432.0,404.7 434.0,404.6 436.0,404.5 438.0,404.3 440.0,404.2 442.0,404.1 444.0,403.9 446.0,403.8 448.0,403.7 450.0,403.6 452.0,403.4 454.0,403.3 456.0,403.2 458.0,403.0 460.0,402.9 462.0,402.8 464.0,402.6 466.0,402.5 468.0,402.4 470.0,402.2 472.0,402.1 474.0,402.0 476.0,401.9 478.0,401.7 480.0,401.6 482.0,401.5 484.0,401.3 486.0,401.2 488.0,401.1 490.0,400.9 492.0,400.8 494.0,400.7 496.0,400.6 498.0,400.4 500.0,400.3 502.0,400.2 504.0,400.0 506.0,399.9 508.0,399.8 510.0,399.6 512.0,399.5 514.0,399.4 516.0,399.3 518.0,399.1 520.0,399.0 522.0,398.9 524.0,398.7 526.0,398.6 528.0,398.5 530.0,398.3 532.0,398.2 534.0,398.1 536.0,398.0 538.0,397.8 540.0,397.7 542.0,397.6 544.0,397.4 546.0,397.3 548.0,397.2 550.0,397.0 552.0,396.9 554.0,396.8 556.0,396.7 558.0,396.5 560.0,396.4 562.0,396.3 564.0,396.2 566.0,396.1 568.0,395.9 570.0,395.8 572.0,395.7 574.0,395.6 576.0,395.5 578.0,395.4 580.0,395.2 582.0,395.1 584.0,395.0 586.0,394.9 588.0,394.8 590.0,394.7 592.0,394.6 594.0,394.4 596.0,394.3 598.0,394.2 600.0,394.1 602.0,394.0 604.0,393.8 606.0,393.7 608.0,393.5 610.0,393.4 612.0,393.2 614.0,393.1 616.0,392.9 618.0,392.8 620.0,392.6 622.0,392.4 624.0,392.3 626.0,392.1 628.0,392.0 630.0,391.8 632.0,391.7 634.0,391.5 636.0,391.4 638.0,391.2 640.0,391.1 642.0,390.9 644.0,390.7 646.0,390.6 648.0,390.4 650.0,390.3 652.0,390.1 654.0,390.0 656.0,389.8 658.0,389.7 660.0,389.5 662.0,389.3 664.0,389.2 666.0,389.0 668.0,388.9 670.0,388.7 672.0,388.6 674.0,388.4 676.0,388.3 678.0,388.1 680.0,388.0 682.0,387.8 684.0,387.6 686.0,387.5 688.0,387.3 690.0,387.2 692.0,387.0 694.0,386.9 696.0,386.7 698.0,386.6 700.0,386.4 702.0,386.3 704.0,386.1 706.0,385.9 708.0,385.8 710.0,385.6 712.0,385.5 714.0,385.3 716.0,385.2 718.0,385.0 720.0,384.9 722.0,384.7 724.0,384.6 726.0,384.4 728.0,384.2 730.0,384.1 732.0,383.9 734.0,383.8 736.0,383.6 738.0,383.5" fill="none" stroke="#300008" stroke-width="1.7" shape-rendering="crispEdges"/><polyline points="76.0,441.5 78.0,441.4 80.0,441.3 82.0,441.2 84.0,441.0 86.0,440.9 88.0,440.8 90.0,440.7 92.0,440.5 94.0,440.4 96.0,440.3 98.0,440.1 100.0,440.0 102.0,439.9 104.0,439.7 106.0,439.6 108.0,439.5 110.0,439.3 112.0,439.2 114.0,439.0 116.0,438.9 118.0,438.7 120.0,438.6 122.0,438.4 124.0,438.3 126.0,438.1 128.0,437.9 130.0,437.8 132.0,437.6 134.0,437.4 136.0,437.3 138.0,437.1 140.0,436.9 142.0,436.7 144.0,436.5 146.0,436.4 148.0,436.2 150.0,436.0 152.0,435.8 154.0,435.6 156.0,435.4 158.0,435.2 160.0,434.9 162.0,434.7 164.0,434.5 166.0,434.3 168.0,434.0 170.0,433.8 172.0,433.6 174.0,433.3 176.0,433.1 178.0,432.8 180.0,432.6 182.0,432.3 184.0,432.1 186.0,431.8 188.0,431.5 190.0,431.2 192.0,431.0 194.0,430.7 196.0,430.4 198.0,430.1 200.0,429.8 202.0,429.5 204.0,429.2 206.0,428.8 208.0,428.5 210.0,428.2 212.0,427.8 214.0,427.5 216.0,427.2 218.0,426.8 220.0,426.4 222.0,426.1 224.0,425.7 226.0,425.3 228.0,424.9 230.0,424.6 232.0,424.2 234.0,423.7 236.0,423.3 238.0,422.9 240.0,422.5 242.0,422.0 244.0,421.6 246.0,421.1 248.0,420.6 250.0,420.1 252.0,419.6 254.0,419.0 256.0,418.5 258.0,417.9 260.0,417.3 262.0,416.7 264.0,416.1 266.0,415.4 268.0,414.7 270.0,414.0 272.0,413.3 274.0,412.6 276.0,411.8 278.0,411.0 280.0,410.2 282.0,409.3 284.0,408.4 286.0,407.5 288.0,406.6 290.0,405.6 292.0,404.6 294.0,403.5 296.0,402.4 298.0,401.3 300.0,400.2 302.0,399.0 304.0,397.8 306.0,396.5 308.0,395.2 310.0,393.9 312.0,392.5 314.0,391.1 316.0,389.7 318.0,388.2 320.0,386.7 322.0,385.1 324.0,383.5 326.0,381.9 328.0,380.3 330.0,378.6 332.0,376.8 334.0,375.0 336.0,373.2 338.0,371.4 340.0,369.5 342.0,367.6 344.0,365.6 346.0,363.6 348.0,361.5 350.0,359.5 352.0,357.3 354.0,355.2 356.0,353.0 358.0,350.7 360.0,348.5 362.0,346.1 364.0,343.8 366.0,341.4 368.0,339.0 370.0,336.5 372.0,334.1 374.0,331.6 376.0,329.1 378.0,326.5 380.0,324.0 382.0,321.5 384.0,318.9 386.0,316.3 388.0,313.8 390.0,311.2 392.0,308.6 394.0,306.1 396.0,303.6 398.0,301.0 400.0,298.5 402.0,296.0 404.0,293.5 406.0,291.1 408.0,288.7 410.0,286.3 412.0,283.9 414.0,281.6 416.0,279.3 418.0,277.0 420.0,274.8 422.0,272.6 424.0,270.4 426.0,268.3 428.0,266.2 430.0,264.1 432.0,262.0 434.0,260.0 436.0,258.0 438.0,256.1 440.0,254.1 442.0,252.2 444.0,250.3 446.0,248.5 448.0,246.6 450.0,244.8 452.0,243.0 454.0,241.3 456.0,239.5 458.0,237.8 460.0,236.1 462.0,234.4 464.0,232.7 466.0,231.0 468.0,229.4 470.0,227.7 472.0,226.1 474.0,224.5 476.0,222.9 478.0,221.4 480.0,219.9 482.0,218.4 484.0,216.9 486.0,215.5 488.0,214.0 490.0,212.6 492.0,211.3 494.0,210.0 496.0,208.7 498.0,207.4 500.0,206.2 502.0,205.0 504.0,203.9 506.0,202.7 508.0,201.6 510.0,200.6 512.0,199.5 514.0,198.5 516.0,197.5 518.0,196.5 520.0,195.6 522.0,194.7 524.0,193.8 526.0,192.9 528.0,192.1 530.0,191.3 532.0,190.4 534.0,189.7 536.0,188.9 538.0,188.1 540.0,187.4 542.0,186.7 544.0,185.9 546.0,185.2 548.0,184.6 550.0,183.9 552.0,183.2 554.0,182.6 556.0,181.9 558.0,181.3 560.0,180.6 562.0,180.0 564.0,179.4 566.0,178.8 568.0,178.2 570.0,177.6 572.0,177.0 574.0,176.4 576.0,175.8 578.0,175.2 580.0,174.7 582.0,174.1 584.0,173.6 586.0,173.0 588.0,172.5 590.0,171.9 592.0,171.4 594.0,170.9 596.0,170.4 598.0,169.9 600.0,169.4 602.0,168.9 604.0,168.4 606.0,167.9 608.0,167.4 610.0,166.9 612.0,166.4 614.0,166.0 616.0,165.5 618.0,165.1 620.0,164.6 622.0,164.2 624.0,163.7 626.0,163.3 628.0,162.9 630.0,162.4 632.0,162.0 634.0,161.6 636.0,161.2 638.0,160.8 640.0,160.4 642.0,160.0 644.0,159.6 646.0,159.3 648.0,158.9 650.0,158.5 652.0,158.2 654.0,157.8 656.0,157.4 658.0,157.1 660.0,156.7 662.0,156.4 664.0,156.1 666.0,155.7 668.0,155.4 670.0,155.1 672.0,154.8 674.0,154.4 676.0,154.1 678.0,153.8 680.0,153.5 682.0,153.2 684.0,152.9 686.0,152.6 688.0,152.4 690.0,152.1 692.0,151.8 694.0,151.5 696.0,151.3 698.0,151.0 700.0,150.7 702.0,150.5 704.0,150.2 706.0,150.0 708.0,149.7 710.0,149.5 712.0,149.3 714.0,149.0 716.0,148.8 718.0,148.6 720.0,148.4 722.0,148.1 724.0,147.9 726.0,147.7 728.0,147.5 730.0,147.3 732.0,147.1 734.0,146.9 736.0,146.7 738.0,146.5 739.3,146.4" fill="none" stroke="#2e8a6e" stroke-width="1.1" shape-rendering="crispEdges"/><polyline points="76.0,420.5 78.0,420.4 80.0,420.4 82.0,420.4 84.0,420.3 86.0,420.2 88.0,420.2 90.0,420.1 92.0,420.0 94.0,419.9 96.0,419.9 98.0,419.8 100.0,419.7 102.0,419.6 104.0,419.5 106.0,419.4 108.0,419.3 110.0,419.2 112.0,419.0 114.0,418.9 116.0,418.8 118.0,418.7 120.0,418.5 122.0,418.4 124.0,418.3 126.0,418.1 128.0,418.0 130.0,417.8 132.0,417.7 134.0,417.5 136.0,417.3 138.0,417.2 140.0,417.0 142.0,416.8 144.0,416.7 146.0,416.5 148.0,416.3 150.0,416.1 152.0,415.9 154.0,415.7 156.0,415.6 158.0,415.4 160.0,415.2 162.0,415.0 164.0,414.8 166.0,414.6 168.0,414.4 170.0,414.1 172.0,413.9 174.0,413.7 176.0,413.5 178.0,413.3 180.0,413.1 182.0,412.9 184.0,412.6 186.0,412.4 188.0,412.2 190.0,412.0 192.0,411.7 194.0,411.5 196.0,411.3 198.0,411.0 200.0,410.8 202.0,410.6 204.0,410.3 206.0,410.1 208.0,409.9 210.0,409.6 212.0,409.4 214.0,409.1 216.0,408.9 218.0,408.6 220.0,408.4 222.0,408.1 224.0,407.8 226.0,407.5 228.0,407.2 230.0,406.9 232.0,406.6 234.0,406.2 236.0,405.9 238.0,405.5 240.0,405.1 242.0,404.7 244.0,404.3 246.0,403.8 248.0,403.4 250.0,402.9 252.0,402.4 254.0,401.9 256.0,401.3 258.0,400.7 260.0,400.1 262.0,399.5 264.0,398.9 266.0,398.2 268.0,397.5 270.0,396.8 272.0,396.1 274.0,395.3 276.0,394.6 278.0,393.8 280.0,393.0 282.0,392.2 284.0,391.4 286.0,390.6 288.0,389.7 290.0,388.9 292.0,388.1 294.0,387.2 296.0,386.3 298.0,385.4 300.0,384.5 302.0,383.6 304.0,382.6 306.0,381.7 308.0,380.7 310.0,379.7 312.0,378.7 314.0,377.6 316.0,376.6 318.0,375.4 320.0,374.3 322.0,373.1 324.0,371.8 326.0,370.5 328.0,369.2 330.0,367.8 332.0,366.3 334.0,364.7 336.0,363.1 338.0,361.4 340.0,359.6 342.0,357.8 344.0,355.8 346.0,353.8 348.0,351.7 350.0,349.5 352.0,347.3 354.0,345.0 356.0,342.7 358.0,340.2 360.0,337.8 362.0,335.3 364.0,332.7 366.0,330.1 368.0,327.4 370.0,324.7 372.0,322.0 374.0,319.2 376.0,316.4 378.0,313.6 380.0,310.8 382.0,307.9 384.0,305.0 386.0,302.1 388.0,299.2 390.0,296.3 392.0,293.3 394.0,290.4 396.0,287.4 398.0,284.5 400.0,281.6 402.0,278.6 404.0,275.7 406.0,272.8 408.0,269.9 410.0,267.1 412.0,264.2 414.0,261.4 416.0,258.6 418.0,255.9 420.0,253.1 422.0,250.4 424.0,247.8 426.0,245.1 428.0,242.5 430.0,239.9 432.0,237.4 434.0,234.9 436.0,232.4 438.0,229.9 440.0,227.5 442.0,225.1 444.0,222.7 446.0,220.4 448.0,218.1 450.0,215.9 452.0,213.6 454.0,211.4 456.0,209.3 458.0,207.1 460.0,205.0 462.0,202.9 464.0,200.8 466.0,198.7 468.0,196.7 470.0,194.6 472.0,192.6 474.0,190.5 476.0,188.5 478.0,186.5 480.0,184.5 482.0,182.5 484.0,180.5 486.0,178.6 488.0,176.6 490.0,174.7 492.0,172.8 494.0,171.0 496.0,169.2 498.0,167.4 500.0,165.7 502.0,164.0 504.0,162.3 506.0,160.7 508.0,159.2 510.0,157.7 512.0,156.3 514.0,154.9 516.0,153.5 518.0,152.2 520.0,151.0 522.0,149.7 524.0,148.6 526.0,147.4 528.0,146.3 530.0,145.2 532.0,144.1 534.0,143.1 536.0,142.0 538.0,141.0 540.0,140.0 542.0,139.0 544.0,138.0 546.0,137.1 548.0,136.1 550.0,135.2 552.0,134.3 554.0,133.4 556.0,132.5 558.0,131.7 560.0,130.8 562.0,130.0 564.0,129.1 566.0,128.3 568.0,127.5 570.0,126.7 572.0,126.0 574.0,125.2 576.0,124.4 578.0,123.7 580.0,123.0 582.0,122.3 584.0,121.6 586.0,120.9 588.0,120.2 590.0,119.5 592.0,118.8 594.0,118.2 596.0,117.6 598.0,116.9 600.0,116.3 602.0,115.7 604.0,115.1 606.0,114.5 608.0,113.9 610.0,113.4 612.0,112.8 614.0,112.3 616.0,111.7 618.0,111.2 620.0,110.7 622.0,110.1 624.0,109.6 626.0,109.1 628.0,108.6 630.0,108.1 632.0,107.7 634.0,107.2 636.0,106.7 638.0,106.3 640.0,105.8 642.0,105.4 644.0,104.9 646.0,104.5 648.0,104.1 650.0,103.6 652.0,103.2 654.0,102.8 656.0,102.4 658.0,102.0 660.0,101.6 662.0,101.2 664.0,100.8 666.0,100.4 668.0,100.0 670.0,99.7 672.0,99.3 674.0,98.9 676.0,98.5 678.0,98.2 680.0,97.8 682.0,97.5 684.0,97.1 686.0,96.7 688.0,96.4 690.0,96.0 692.0,95.7 694.0,95.4 696.0,95.0 698.0,94.7 700.0,94.3 702.0,94.0 704.0,93.6 706.0,93.3 708.0,93.0 710.0,92.6 712.0,92.3 714.0,91.9 716.0,91.6 718.0,91.2 720.0,90.9 722.0,90.6 724.0,90.2 726.0,89.9 728.0,89.5 730.0,89.2 732.0,88.8 734.0,88.5 736.0,88.1 738.0,87.7 738.7,87.6" fill="none" stroke="#2c2488" stroke-width="1.1" shape-rendering="crispEdges"/><polyline points="76.0,417.9 78.0,417.8 80.0,417.7 82.0,417.6 84.0,417.5 86.0,417.4 88.0,417.3 90.0,417.2 92.0,417.1 94.0,417.0 96.0,416.9 98.0,416.8 100.0,416.6 102.0,416.5 104.0,416.4 106.0,416.3 108.0,416.2 110.0,416.0 112.0,415.9 114.0,415.8 116.0,415.6 118.0,415.5 120.0,415.4 122.0,415.2 124.0,415.1 126.0,414.9 128.0,414.8 130.0,414.6 132.0,414.4 134.0,414.3 136.0,414.1 138.0,413.9 140.0,413.7 142.0,413.5 144.0,413.3 146.0,413.2 148.0,412.9 150.0,412.7 152.0,412.5 154.0,412.3 156.0,412.1 158.0,411.9 160.0,411.6 162.0,411.4 164.0,411.1 166.0,410.9 168.0,410.6 170.0,410.4 172.0,410.1 174.0,409.8 176.0,409.5 178.0,409.3 180.0,409.0 182.0,408.7 184.0,408.3 186.0,408.0 188.0,407.7 190.0,407.4 192.0,407.0 194.0,406.7 196.0,406.3 198.0,406.0 200.0,405.6 202.0,405.2 204.0,404.8 206.0,404.4 208.0,404.0 210.0,403.6 212.0,403.2 214.0,402.7 216.0,402.3 218.0,401.9 220.0,401.4 222.0,401.0 224.0,400.5 226.0,400.1 228.0,399.6 230.0,399.2 232.0,398.7 234.0,398.2 236.0,397.8 238.0,397.3 240.0,396.9 242.0,396.4 244.0,395.9 246.0,395.5 248.0,395.0 250.0,394.4 252.0,393.9 254.0,393.3 256.0,392.7 258.0,392.1 260.0,391.4 262.0,390.6 264.0,389.8 266.0,388.9 268.0,388.0 270.0,387.0 272.0,385.9 274.0,384.9 276.0,383.7 278.0,382.6 280.0,381.5 282.0,380.3 284.0,379.1 286.0,378.0 288.0,376.7 290.0,375.5 292.0,374.2 294.0,373.0 296.0,371.6 298.0,370.3 300.0,368.9 302.0,367.5 304.0,366.0 306.0,364.5 308.0,363.0 310.0,361.4 312.0,359.8 314.0,358.1 316.0,356.4 318.0,354.6 320.0,352.7 322.0,350.8 324.0,348.9 326.0,346.9 328.0,344.8 330.0,342.6 332.0,340.4 334.0,338.1 336.0,335.8 338.0,333.4 340.0,331.0 342.0,328.5 344.0,326.0 346.0,323.4 348.0,320.8 350.0,318.2 352.0,315.5 354.0,312.8 356.0,310.0 358.0,307.3 360.0,304.5 362.0,301.6 364.0,298.8 366.0,295.9 368.0,293.1 370.0,290.2 372.0,287.3 374.0,284.4 376.0,281.4 378.0,278.5 380.0,275.6 382.0,272.6 384.0,269.7 386.0,266.8 388.0,263.8 390.0,260.8 392.0,257.9 394.0,254.9 396.0,251.9 398.0,248.9 400.0,245.9 402.0,242.9 404.0,239.9 406.0,236.9 408.0,233.8 410.0,230.8 412.0,227.7 414.0,224.7 416.0,221.6 418.0,218.7 420.0,215.7 422.0,212.9 424.0,210.2 426.0,207.6 428.0,205.1 430.0,202.7 432.0,200.4 434.0,198.3 436.0,196.2 438.0,194.2 440.0,192.2 442.0,190.2 444.0,188.3 446.0,186.3 448.0,184.5 450.0,182.6 452.0,180.7 454.0,178.9 456.0,177.1 458.0,175.3 460.0,173.5 462.0,171.7 464.0,170.0 466.0,168.2 468.0,166.4 470.0,164.7 472.0,162.9 474.0,161.1 476.0,159.3 478.0,157.5 480.0,155.8 482.0,154.0 484.0,152.2 486.0,150.5 488.0,148.7 490.0,147.0 492.0,145.3 494.0,143.6 496.0,141.9 498.0,140.3 500.0,138.7 502.0,137.2 504.0,135.6 506.0,134.2 508.0,132.7 510.0,131.3 512.0,130.0 514.0,128.7 516.0,127.5 518.0,126.3 520.0,125.1 522.0,124.0 524.0,123.0 526.0,121.9 528.0,120.9 530.0,120.0 532.0,119.1 534.0,118.2 536.0,117.3 538.0,116.5 540.0,115.6 542.0,114.9 544.0,114.1 546.0,113.3 548.0,112.6 550.0,111.8 552.0,111.1 554.0,110.4 556.0,109.7 558.0,109.0 560.0,108.3 562.0,107.7 564.0,107.0 566.0,106.4 568.0,105.7 570.0,105.1 572.0,104.5 574.0,103.9 576.0,103.3 578.0,102.7 580.0,102.1 582.0,101.5 584.0,101.0 586.0,100.4 588.0,99.8 590.0,99.3 592.0,98.7 594.0,98.2 596.0,97.7 598.0,97.1 600.0,96.6 602.0,96.1 604.0,95.6 606.0,95.1 608.0,94.6 610.0,94.1 612.0,93.6 614.0,93.1 616.0,92.6 618.0,92.2 620.0,91.7 622.0,91.2 624.0,90.7 626.0,90.3 628.0,89.8 630.0,89.3 632.0,88.9 634.0,88.4 636.0,88.0 638.0,87.5 640.0,87.1 642.0,86.6 644.0,86.2 646.0,85.8 648.0,85.3 650.0,84.9 652.0,84.5 654.0,84.0 656.0,83.6 658.0,83.2 660.0,82.8 662.0,82.3 664.0,81.9 666.0,81.5 668.0,81.1 670.0,80.7 672.0,80.3 674.0,79.9 676.0,79.5 678.0,79.1 680.0,78.7 682.0,78.3 684.0,77.9 686.0,77.5 688.0,77.1 690.0,76.7 692.0,76.3 694.0,75.9 696.0,75.5 698.0,75.1 700.0,74.7 702.0,74.3 704.0,73.9 706.0,73.6 708.0,73.2 710.0,72.8 712.0,72.4 714.0,72.0 716.0,71.6 718.0,71.2 720.0,70.9 722.0,70.5 724.0,70.1 726.0,69.7 728.0,69.3 730.0,68.9 732.0,68.5 734.0,68.2 736.0,67.8 738.0,67.4 738.7,67.3" fill="none" stroke="#a0a098" stroke-width="1.1" shape-rendering="crispEdges"/><polyline points="76.0,417.9 78.0,417.8 80.0,417.7 82.0,417.7 84.0,417.6 86.0,417.5 88.0,417.4 90.0,417.3 92.0,417.2 94.0,417.1 96.0,416.9 98.0,416.8 100.0,416.7 102.0,416.5 104.0,416.4 106.0,416.2 108.0,416.0 110.0,415.9 112.0,415.7 114.0,415.5 116.0,415.3 118.0,415.1 120.0,414.8 122.0,414.6 124.0,414.4 126.0,414.1 128.0,413.8 130.0,413.6 132.0,413.3 134.0,413.0 136.0,412.7 138.0,412.3 140.0,412.0 142.0,411.7 144.0,411.3 146.0,410.9 148.0,410.5 150.0,410.1 152.0,409.7 154.0,409.3 156.0,408.8 158.0,408.4 160.0,407.9 162.0,407.4 164.0,406.9 166.0,406.4 168.0,405.8 170.0,405.3 172.0,404.7 174.0,404.1 176.0,403.5 178.0,402.9 180.0,402.2 182.0,401.5 184.0,400.8 186.0,400.1 188.0,399.3 190.0,398.6 192.0,397.7 194.0,396.9 196.0,396.0 198.0,395.1 200.0,394.1 202.0,393.1 204.0,392.0 206.0,390.9 208.0,389.8 210.0,388.6 212.0,387.4 214.0,386.1 216.0,384.7 218.0,383.3 220.0,381.8 222.0,380.3 224.0,378.7 226.0,377.1 228.0,375.4 230.0,373.7 232.0,371.9 234.0,370.1 236.0,368.2 238.0,366.4 240.0,364.5 242.0,362.7 244.0,360.9 246.0,359.0 248.0,357.2 250.0,355.3 252.0,353.5 254.0,351.5 256.0,349.6 258.0,347.5 260.0,345.2 262.0,342.8 264.0,340.2 266.0,337.4 268.0,334.5 270.0,331.5 272.0,328.6 274.0,325.6 276.0,322.8 278.0,319.9 280.0,317.1 282.0,314.3 284.0,311.6 286.0,308.8 288.0,306.1 290.0,303.3 292.0,300.5 294.0,297.8 296.0,295.0 298.0,292.1 300.0,289.3 302.0,286.5 304.0,283.6 306.0,280.7 308.0,277.9 310.0,275.0 312.0,272.1 314.0,269.2 316.0,266.4 318.0,263.5 320.0,260.7 322.0,257.9 324.0,255.0 326.0,252.3 328.0,249.5 330.0,246.7 332.0,244.0 334.0,241.3 336.0,238.6 338.0,236.0 340.0,233.4 342.0,230.8 344.0,228.2 346.0,225.7 348.0,223.1 350.0,220.7 352.0,218.2 354.0,215.8 356.0,213.4 358.0,211.1 360.0,208.8 362.0,206.5 364.0,204.3 366.0,202.1 368.0,200.0 370.0,197.8 372.0,195.8 374.0,193.7 376.0,191.7 378.0,189.7 380.0,187.8 382.0,185.8 384.0,184.0 386.0,182.1 388.0,180.3 390.0,178.5 392.0,176.7 394.0,175.0 396.0,173.3 398.0,171.6 400.0,169.9 402.0,168.3 404.0,166.6 406.0,165.0 408.0,163.5 410.0,161.9 412.0,160.4 414.0,158.9 416.0,157.4 418.0,156.0 420.0,154.6 422.0,153.2 424.0,151.8 426.0,150.5 428.0,149.2 430.0,147.9 432.0,146.6 434.0,145.4 436.0,144.2 438.0,143.0 440.0,141.9 442.0,140.8 444.0,139.7 446.0,138.6 448.0,137.6 450.0,136.6 452.0,135.6 454.0,134.7 456.0,133.7 458.0,132.8 460.0,131.9 462.0,131.1 464.0,130.2 466.0,129.4 468.0,128.6 470.0,127.8 472.0,127.0 474.0,126.2 476.0,125.4 478.0,124.7 480.0,123.9 482.0,123.2 484.0,122.5 486.0,121.8 488.0,121.1 490.0,120.4 492.0,119.7 494.0,119.0 496.0,118.3 498.0,117.7 500.0,117.0 502.0,116.4 504.0,115.8 506.0,115.1 508.0,114.5 510.0,113.9 512.0,113.3 514.0,112.7 516.0,112.1 518.0,111.6 520.0,111.0 522.0,110.4 524.0,109.9 526.0,109.4 528.0,108.8 530.0,108.3 532.0,107.8 534.0,107.2 536.0,106.7 538.0,106.2 540.0,105.7 542.0,105.2 544.0,104.8 546.0,104.3 548.0,103.8 550.0,103.3 552.0,102.9 554.0,102.4 556.0,102.0 558.0,101.5 560.0,101.1 562.0,100.6 564.0,100.2 566.0,99.7 568.0,99.3 570.0,98.9 572.0,98.5 574.0,98.1 576.0,97.6 578.0,97.2 580.0,96.8 582.0,96.4 584.0,96.0 586.0,95.6 588.0,95.2 590.0,94.8 592.0,94.5 594.0,94.1 596.0,93.7 598.0,93.3 600.0,92.9 602.0,92.6 604.0,92.2 606.0,91.8 608.0,91.5 610.0,91.1 612.0,90.7 614.0,90.4 616.0,90.0 618.0,89.6 620.0,89.3 622.0,88.9 624.0,88.6 626.0,88.2 628.0,87.9 630.0,87.5 632.0,87.2 634.0,86.8 636.0,86.5 638.0,86.1 640.0,85.8 642.0,85.4 644.0,85.1 646.0,84.7 648.0,84.4 650.0,84.0 652.0,83.7 654.0,83.3 656.0,83.0 658.0,82.7 660.0,82.3 662.0,82.0 664.0,81.6 666.0,81.3 668.0,80.9 670.0,80.6 672.0,80.2 674.0,79.8 676.0,79.5 678.0,79.1 680.0,78.8 682.0,78.4 684.0,78.0 686.0,77.7 688.0,77.3 690.0,76.9 692.0,76.6 694.0,76.2 696.0,75.8 698.0,75.4 700.0,75.1 702.0,74.7 704.0,74.3 706.0,73.9 708.0,73.5 710.0,73.1 712.0,72.7 714.0,72.3 716.0,71.9 718.0,71.5 720.0,71.1 722.0,70.7 724.0,70.3 726.0,69.8 728.0,69.4 730.0,69.0 732.0,68.6 734.0,68.1 736.0,67.7 738.0,67.2 738.7,67.1" fill="none" stroke="#f2a088" stroke-width="1.1" shape-rendering="crispEdges"/>
<text x="459.8" y="123" text-anchor="middle" class="lb" style="font-size:14px">9</text><text x="462.9" y="159.4" text-anchor="middle" class="lb" style="font-size:14px">8</text><text x="471.6" y="182" text-anchor="middle" class="lb" style="font-size:14px">7</text><text x="477.5" y="210.2" text-anchor="middle" class="lb" style="font-size:14px">6</text>
<polyline points="725,363.5 743.2,363.5 743.2,398 725,398" fill="none" stroke="#000" stroke-width="2"/>
<text x="730.6" y="412.8" text-anchor="middle" class="lb" style="font-size:14.5px">1-5</text>
<polyline points="74.9,499.6 74.9,488.4 82.4,498.6 82.4,488.2" fill="none" stroke="#000" stroke-width="1.6" stroke-linejoin="bevel"/>
</svg>
</body></html>
